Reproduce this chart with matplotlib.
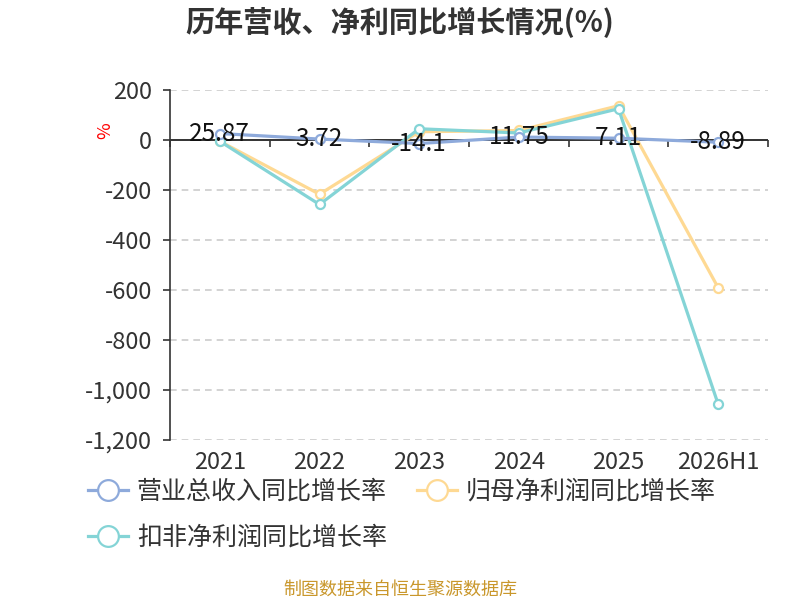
import matplotlib
matplotlib.use("Agg")
import matplotlib.pyplot as plt
from matplotlib.ticker import FuncFormatter, MultipleLocator
import numpy as np

plt.rcParams['font.family'] = ['Noto Sans CJK SC', 'DejaVu Sans']

categories = ['2021', '2022', '2023', '2024', '2025', '2026H1']
revenue_growth = [25.87, 3.72, -14.1, 11.75, 7.11, -8.89]
net_profit_growth = [-5, -217, 33, 38, 137, -591]
deducted_profit_growth = [-5, -258, 45, 28, 125, -1057]

series_names = ['营业总收入同比增长率', '归母净利润同比增长率', '扣非净利润同比增长率']
colors = ['#8eaadb', '#fed993', '#84d4d6']

fig = plt.figure(figsize=(8, 6), dpi=100)
ax = fig.add_axes([0.2125, 0.2667, 0.7475, 0.5833])

x = np.arange(len(categories))
lines = []
for vals, name, c, z in [(revenue_growth, series_names[0], colors[0], 5),
                         (net_profit_growth, series_names[1], colors[1], 3),
                         (deducted_profit_growth, series_names[2], colors[2], 4)]:
    ln, = ax.plot(x, vals, color=c, lw=2.3, marker='o', ms=6.5,
                  mfc='white', mec=c, mew=1.6, label=name, zorder=z)
    lines.append(ln)

for xi, v in zip(x, revenue_growth):
    ax.text(xi, v, f'{v:g}', ha='center', va='center', fontsize=17.5,
            color='#111111', zorder=6)

ax.set_xlim(-0.5, len(categories) - 0.5)
ax.set_ylim(-1200, 200)
ax.yaxis.set_major_locator(MultipleLocator(200))
ax.yaxis.set_major_formatter(FuncFormatter(lambda v, p: f'{int(v):,}'))
ax.grid(axis='y', color='#cccccc', ls=(0, (4, 3)), lw=1.2, zorder=0)
ax.set_axisbelow(True)
ax.axhline(0, color='#333333', lw=1.4, zorder=2)

for s in ['top', 'right', 'bottom']:
    ax.spines[s].set_visible(False)
ax.spines['left'].set_color('#333333')
ax.spines['left'].set_linewidth(1.2)
ax.tick_params(axis='y', direction='out', length=5, width=1.2, color='#333333',
               labelsize=17, labelcolor='#333333', pad=8)

ax.set_xticks(x)
ax.set_xticklabels(categories)
ax.tick_params(axis='x', length=0, labelsize=17, labelcolor='#333333', pad=8)

zero_ax = ax.secondary_xaxis(0, transform=ax.transData)
zero_ax.spines['bottom'].set_visible(False)
zero_ax.set_xticks(np.arange(len(categories) + 1) - 0.5)
zero_ax.set_xticklabels([])
zero_ax.tick_params(axis='x', direction='out', length=5, width=1.2, color='#333333')

fig.text(0.132, 0.782, '%', color='red', fontsize=13, rotation=90,
         ha='center', va='center')

fig.text(0.5, 0.963, '历年营收、净利同比增长情况(%)', ha='center', va='center',
         fontsize=21, fontweight='bold', color='#333333')

handles = [lines[0], lines[2], lines[1]]
labels = [series_names[0], series_names[2], series_names[1]]
leg = fig.legend(handles, labels, loc='upper left', bbox_to_anchor=(0.11, 0.202),
                 ncol=2, frameon=False, fontsize=18, handlelength=1.6,
                 markerscale=2.3, columnspacing=1.2, handletextpad=0.35,
                 labelspacing=0.8, borderaxespad=0, borderpad=0)
for t in leg.get_texts():
    t.set_color('#333333')

fig.text(0.5, 0.017, '制图数据来自恒生聚源数据库', ha='center', va='center',
         fontsize=13, color='#c9972b')

fig.savefig('out.png', dpi=100)
